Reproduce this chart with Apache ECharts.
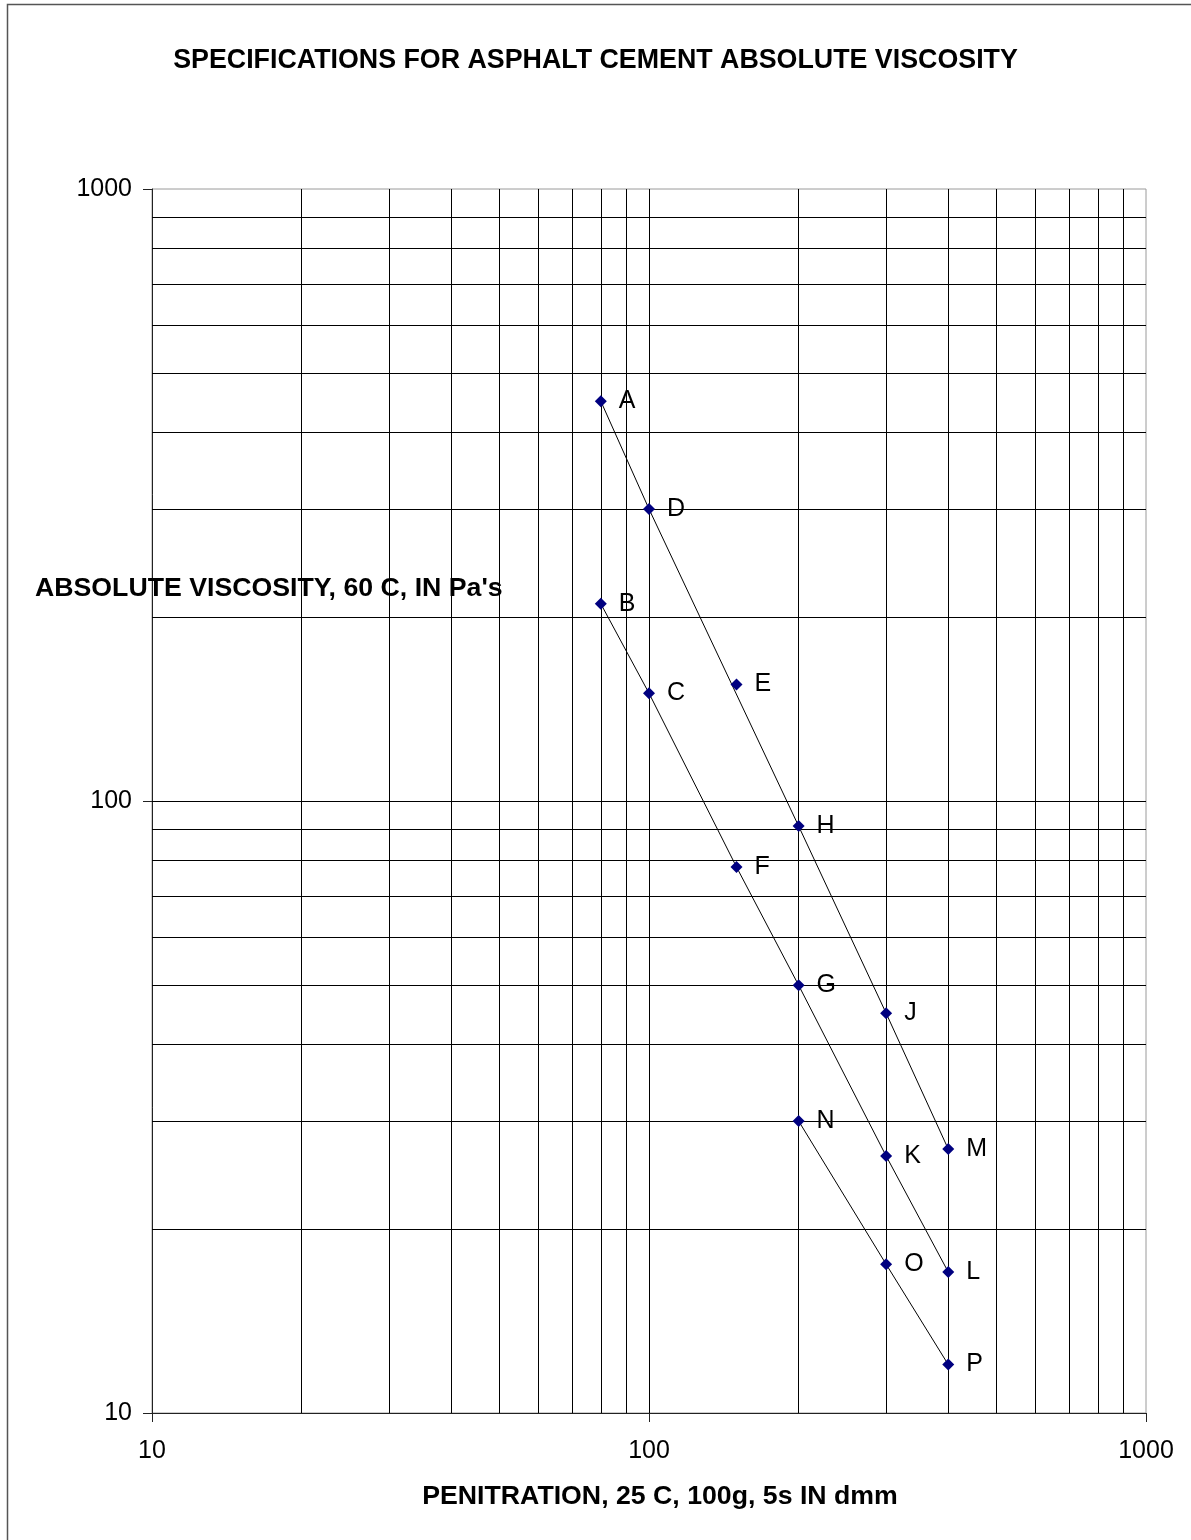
<!DOCTYPE html>
<html>
<head>
<meta charset="utf-8">
<script src="https://cdn.jsdelivr.net/npm/echarts@6/dist/echarts.min.js"></script>
<style>
html,body{margin:0;padding:0;background:#fff;}
#chart{width:1191px;height:1540px;}
</style>
</head>
<body>
<div id="chart"></div>
<script>
// ---- data ----
const titleText = 'SPECIFICATIONS FOR ASPHALT CEMENT ABSOLUTE VISCOSITY';
const yTitle = "ABSOLUTE VISCOSITY, 60 C, IN Pa's";
const xTitle = 'PENITRATION, 25 C, 100g, 5s IN dmm';

const upperLabels = ['A', 'D', 'H', 'J', 'M'];
const upperX = [80, 100, 200, 300, 400];
const upperY = [450, 300, 91, 45, 27];

const singleLabels = ['E'];
const singleX = [150];
const singleY = [155];

const lowerLabels = ['B', 'C', 'F', 'G', 'K', 'L'];
const lowerX = [80, 100, 150, 200, 300, 400];
const lowerY = [210, 150, 78, 50, 26.3, 17];

const bottomLabels = ['N', 'O', 'P'];
const bottomX = [200, 300, 400];
const bottomY = [30, 17.5, 12];

const xTickLabels = [10, 100, 1000];
const yTickLabels = [10, 100, 1000];
const xGridValues = [20, 30, 40, 50, 60, 70, 80, 90, 100, 200, 300, 400, 500, 600, 700, 800, 900];
const yGridValues = [20, 30, 40, 50, 60, 70, 80, 90, 100, 200, 300, 400, 500, 600, 700, 800, 900];

// ---- build ----
function pts(labels, xs, ys) {
  return labels.map((n, i) => ({ name: n, value: [xs[i], ys[i]] }));
}
const FONT = '"Liberation Sans", Arial, sans-serif';
const BOLD = 'bold 26.7px "Liberation Sans", Arial, sans-serif';
const pointLabel = {
  show: true, position: 'right', distance: 12, formatter: '{b}',
  color: '#000', fontSize: 25, fontFamily: FONT, opacity: 1
};
const markerStyle = { color: '#000080', opacity: 1 };

const chart = echarts.init(document.getElementById('chart'), null, { renderer: 'canvas' });
const option = {
  animation: false,
  backgroundColor: '#fff',
  title: {
    text: titleText, left: 'center', top: 42,
    textStyle: { fontFamily: FONT, fontWeight: 'bold', fontSize: 26.8, color: '#000' }
  },
  grid: {
    left: 152, right: 45, top: 189, bottom: 127,
    show: true, borderColor: '#9a9a9a', borderWidth: 1, backgroundColor: 'transparent'
  },
  xAxis: {
    type: 'log', logBase: 10, min: xTickLabels[0], max: xTickLabels[xTickLabels.length - 1],
    axisLine: { show: true, lineStyle: { color: '#222', width: 1 } },
    axisTick: { show: true, length: 9, lineStyle: { color: '#222' } },
    axisLabel: {
      margin: 26, color: '#000', fontSize: 25, fontFamily: FONT,
      formatter: v => String(Math.round(v))
    },
    splitLine: { show: false }
  },
  yAxis: {
    type: 'log', logBase: 10, min: yTickLabels[0], max: yTickLabels[yTickLabels.length - 1],
    axisLine: { show: true, lineStyle: { color: '#222', width: 1 } },
    axisTick: { show: true, length: 9, lineStyle: { color: '#222' } },
    axisLabel: {
      margin: 20, color: '#000', fontSize: 25, fontFamily: FONT,
      formatter: v => String(Math.round(v))
    },
    splitLine: { show: false }
  },
  graphic: [
    {
      type: 'rect', silent: true, z: -10,
      shape: { x: 7.5, y: 4.5, width: 1300, height: 1700 },
      style: { fill: 'none', stroke: '#555', lineWidth: 1.5 }
    },
    {
      type: 'text', silent: true, z: 100,
      style: {
        text: yTitle, x: 35, y: 589, textVerticalAlign: 'middle', verticalAlign: 'middle',
        font: BOLD, fill: '#000'
      }
    },
    {
      type: 'text', silent: true, z: 100,
      style: {
        text: xTitle, x: 660, y: 1497, textAlign: 'center', align: 'center',
        textVerticalAlign: 'middle', verticalAlign: 'middle',
        font: BOLD, fill: '#000'
      }
    }
  ],
  series: [
    {
      type: 'scatter', name: 'grid', data: [], silent: true, z: 1,
      markLine: {
        silent: true, symbol: 'none', animation: false,
        label: { show: false },
        lineStyle: { color: '#000', type: 'solid', width: 1, opacity: 1 },
        data: xGridValues.map(v => ({ xAxis: v })).concat(yGridValues.map(v => ({ yAxis: v })))
      }
    },
    {
      type: 'line', name: 'upper', data: pts(upperLabels, upperX, upperY), z: 5,
      symbol: 'diamond', symbolSize: 12, showAllSymbol: true,
      itemStyle: markerStyle, lineStyle: { color: '#000', width: 1 },
      label: pointLabel
    },
    {
      type: 'scatter', name: 'single', data: pts(singleLabels, singleX, singleY), z: 5,
      symbol: 'diamond', symbolSize: 12,
      itemStyle: markerStyle, label: pointLabel
    },
    {
      type: 'line', name: 'lower', data: pts(lowerLabels, lowerX, lowerY), z: 5,
      symbol: 'diamond', symbolSize: 12, showAllSymbol: true,
      itemStyle: markerStyle, lineStyle: { color: '#000', width: 1 },
      label: pointLabel
    },
    {
      type: 'line', name: 'bottom', data: pts(bottomLabels, bottomX, bottomY), z: 5,
      symbol: 'diamond', symbolSize: 12, showAllSymbol: true,
      itemStyle: markerStyle, lineStyle: { color: '#000', width: 1 },
      label: pointLabel
    }
  ]
};
chart.setOption(option);
</script>
</body>
</html>
